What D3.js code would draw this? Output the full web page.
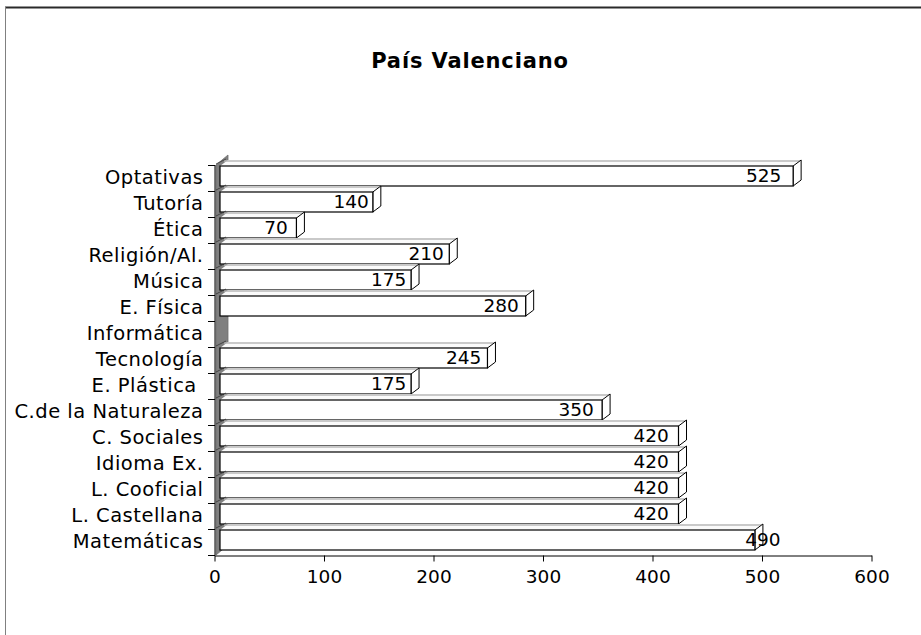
<!DOCTYPE html>
<html>
<head>
<meta charset="utf-8">
<script src="https://cdn.jsdelivr.net/npm/d3@7"></script>
<style>
  html, body { margin: 0; padding: 0; background: #fff; }
  svg { display: block; }
  text { font-family: "DejaVu Sans", Verdana, sans-serif; }
</style>
</head>
<body>
<svg id="chart" width="921" height="635"></svg>
<script>
// ---- data ----
const title = "País Valenciano";
const categories = ["Optativas", "Tutoría", "Ética", "Religión/Al.", "Música", "E. Física",
  "Informática", "Tecnología", "E. Plástica ", "C.de la Naturaleza", "C. Sociales",
  "Idioma Ex.", "L. Cooficial", "L. Castellana", "Matemáticas"];
const values = [525, 140, 70, 210, 175, 280, null, 245, 175, 350, 420, 420, 420, 420, 490];
const xTicks = [0, 100, 200, 300, 400, 500, 600];

// ---- layout ----
const svg = d3.select("#chart");
const depth = { x: 8, y: -6 };
const wallDepth = { x: 12, y: -10 };

const x = d3.scaleLinear().domain([0, 600]).range([214.5, 871.5]);      // axis (front floor edge)
const xBar = d3.scaleLinear().domain([0, 600]).range([220, 875]);       // bar front faces
const xLab = d3.scaleLinear().domain([0, 600]).range([201, 844]);       // label centres
const y = d3.scaleBand().domain(categories).range([165, 555]).padding(0);

// outer frame
svg.append("line").attr("x1", 5).attr("x2", 921).attr("y1", 7.5).attr("y2", 7.5)
  .attr("stroke", "#2a2a2a").attr("stroke-width", 2);
svg.append("line").attr("x1", 5.5).attr("x2", 5.5).attr("y1", 7).attr("y2", 635)
  .attr("stroke", "#808080").attr("stroke-width", 1);

// title
svg.append("text").attr("x", 470).attr("y", 68).attr("text-anchor", "middle")
  .attr("font-size", 21).attr("letter-spacing", 0.85).attr("font-weight", "bold").text(title);

// wall (left, dark grey, 3D)
const wallTop = y.range()[0], wallBot = y.range()[1];
svg.append("polygon")
  .attr("points", [[216, wallTop], [216, wallBot], [216 + wallDepth.x, wallBot + wallDepth.y],
                   [216 + wallDepth.x, wallTop + wallDepth.y]].map(p => p.join(",")).join(" "))
  .attr("fill", "#808080").attr("stroke", "#707070").attr("stroke-width", 0.8);
svg.append("line").attr("x1", 215).attr("x2", 215).attr("y1", wallTop).attr("y2", wallBot)
  .attr("stroke", "#000").attr("stroke-width", 1);

// bars
const data = categories.map((c, i) => ({ cat: c, v: values[i] }));
const g = svg.append("g");
data.forEach(d => {
  if (d.v == null) return;
  const xL = xBar(0), xR = xBar(d.v);
  const yT = y(d.cat) + 1, yB = y(d.cat) + 21;
  const P = pts => pts.map(p => p.join(",")).join(" ");
  // top face
  g.append("polygon")
    .attr("points", P([[xL, yT], [xR, yT], [xR + depth.x, yT + depth.y], [xL + depth.x, yT + depth.y]]))
    .attr("fill", "#fafafa");
  g.append("line").attr("x1", xL + depth.x - 4).attr("x2", xR + depth.x)
    .attr("y1", yT + depth.y + 1).attr("y2", yT + depth.y + 1)
    .attr("stroke", "#b8b8b8").attr("stroke-width", 1.6);
  // small edge at the wall
  g.append("line").attr("x1", 216).attr("y1", yT - 2).attr("x2", 226).attr("y2", yT - 7)
    .attr("stroke", "#333").attr("stroke-width", 0.8);
  // right face
  g.append("polygon")
    .attr("points", P([[xR, yT], [xR + depth.x, yT + depth.y], [xR + depth.x, yB + depth.y], [xR, yB]]))
    .attr("fill", "#fff").attr("stroke", "#000").attr("stroke-width", 1);
  // front face
  g.append("rect").attr("x", xL).attr("y", yT).attr("width", xR - xL).attr("height", yB - yT)
    .attr("fill", "#fff").attr("stroke", "#000").attr("stroke-width", 1.2);
});

// value labels
data.forEach(d => {
  if (d.v == null) return;
  const cx = d.cat === "Matemáticas" ? xBar(d.v) + 8 : xLab(d.v);
  svg.append("text").attr("x", cx).attr("y", y(d.cat) + 17)
    .attr("text-anchor", "middle").attr("font-size", 18.5).text(d.v);
});

// category axis ticks + labels
const bounds = categories.map(c => y(c)).concat([wallBot]);
bounds.forEach(b => {
  svg.append("line").attr("x1", 208).attr("x2", 215).attr("y1", b + 0.5).attr("y2", b + 0.5)
    .attr("stroke", "#000").attr("stroke-width", 1);
});
categories.forEach(c => {
  svg.append("text").attr("x", 203.5).attr("y", y(c) + y.bandwidth() / 2 + 6)
    .attr("text-anchor", "end").attr("font-size", 19.5).attr("letter-spacing", 0.5)
    .style("white-space", "pre").attr("xml:space", "preserve").text(c);
});

// value axis
const xAxis = d3.axisBottom(x).tickValues(xTicks).tickSize(6).tickSizeOuter(0).tickFormat(d3.format("d"));
const ax = svg.append("g").attr("transform", `translate(0,${wallBot + 0.5})`).call(xAxis);
ax.select(".domain").attr("stroke", "#000");
ax.selectAll(".tick line").attr("stroke", "#000");
ax.selectAll(".tick text").attr("font-size", 18.5).attr("font-family", "DejaVu Sans, Verdana, sans-serif")
  .attr("fill", "#000").attr("dy", "1.0em");
</script>
</body>
</html>
